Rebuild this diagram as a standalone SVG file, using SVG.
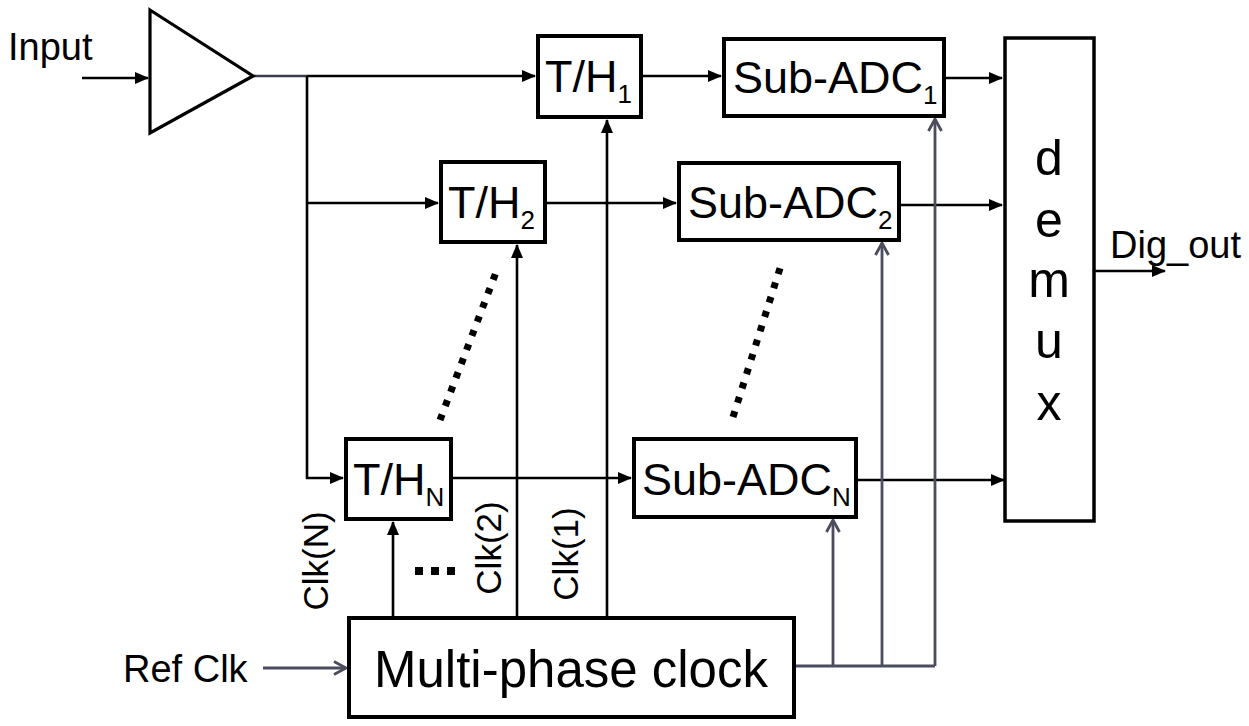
<svg xmlns="http://www.w3.org/2000/svg" width="1249" height="726" viewBox="0 0 1249 726">
<style>
text{font-family:"Liberation Sans",Arial,sans-serif;fill:#000}
.box{fill:#fff;stroke:#000;stroke-width:4}
.lbl{font-size:45px}
.sm{font-size:38px}
.clk{font-size:35px;text-anchor:middle}
.dm{font-size:50px;text-anchor:middle}
.w{fill:none;stroke:#000;stroke-width:2.6}
.g{fill:none;stroke:#4b4d5e;stroke-width:2.8}
.dot{fill:none;stroke:#000;stroke-width:7;stroke-dasharray:6 9}
</style>
<defs>
<marker id="ah" markerWidth="14" markerHeight="12" refX="13" refY="6" orient="auto" markerUnits="userSpaceOnUse"><path d="M0,0 L14,6 L0,12 z" fill="#000"/></marker>
<marker id="oh" markerWidth="16" markerHeight="16" refX="14" refY="8" orient="auto" markerUnits="userSpaceOnUse"><path d="M2,1.5 L14,8 L2,14.5" fill="none" stroke="#4b4d5e" stroke-width="2.8"/></marker>
</defs>
<rect width="1249" height="726" fill="#fff"/>
<g id="connectors">
<path class="w" d="M82,78 H148" marker-end="url(#ah)"/>
<path d="M253,76 H307" fill="none" stroke="#3a3c4c" stroke-width="2.6"/>
<path class="w" d="M307,76 H535" marker-end="url(#ah)"/>
<path class="w" d="M307,76 V478 H343" marker-end="url(#ah)"/>
<path class="w" d="M307,203 H438" marker-end="url(#ah)"/>
<path class="w" d="M642,76 H721" marker-end="url(#ah)"/>
<path class="w" d="M945,78 H1002" marker-end="url(#ah)"/>
<path class="w" d="M546,203 H676" marker-end="url(#ah)"/>
<path class="w" d="M900,205 H1002" marker-end="url(#ah)"/>
<path class="w" d="M452,478 H631" marker-end="url(#ah)"/>
<path class="w" d="M857,480 H1004" marker-end="url(#ah)"/>
<path class="w" d="M1095,271 H1165" marker-end="url(#ah)"/>
<path class="w" d="M393,617 V522" marker-end="url(#ah)"/>
<path class="w" d="M517,617 V245" marker-end="url(#ah)"/>
<path class="w" d="M607,617 V120" marker-end="url(#ah)"/>
<path class="g" d="M795,666 H935"/>
<path class="g" d="M935,666 V119" marker-end="url(#oh)"/>
<path class="g" d="M882,666 V243" marker-end="url(#oh)"/>
<path class="g" d="M833,666 V520" marker-end="url(#oh)"/>
<path class="g" d="M263,668 H346" marker-end="url(#oh)"/>
<path class="dot" d="M440,420 L498,267"/>
<path class="dot" d="M733,417 L782,262"/>
<rect x="415" y="567" width="8" height="8"/>
<rect x="431" y="567" width="8" height="8"/>
<rect x="447" y="567" width="8" height="8"/>
</g>
<g id="amp"><polygon points="150,10 253,76 150,133" fill="#fff" stroke="#000" stroke-width="3.2"/></g>
<g id="th1"><rect class="box" x="538" y="36" width="103" height="81"/><text class="lbl" x="545" y="92">T/H<tspan font-size="26" dy="11">1</tspan></text></g>
<g id="sub1"><rect class="box" x="724" y="39" width="220" height="77"/><text class="lbl" x="733" y="93">Sub-ADC<tspan font-size="26" dy="11">1</tspan></text></g>
<g id="th2"><rect class="box" x="441" y="162" width="104" height="80"/><text class="lbl" x="448" y="218">T/H<tspan font-size="26" dy="11">2</tspan></text></g>
<g id="sub2"><rect class="box" x="679" y="163" width="220" height="77"/><text class="lbl" x="688" y="218">Sub-ADC<tspan font-size="26" dy="11">2</tspan></text></g>
<g id="thN"><rect class="box" x="346" y="439" width="105" height="80"/><text class="lbl" x="353" y="495">T/H<tspan font-size="26" dy="11">N</tspan></text></g>
<g id="subN"><rect class="box" x="634" y="439" width="222" height="78"/><text class="lbl" x="642" y="495">Sub-ADC<tspan font-size="26" dy="11">N</tspan></text></g>
<g id="clock"><rect class="box" x="349" y="618" width="445" height="99"/><text x="571" y="687" font-size="51" text-anchor="middle">Multi-phase clock</text></g>
<g id="demux"><rect x="1005" y="38" width="89" height="483" fill="#fff" stroke="#000" stroke-width="3.5"/>
<text class="dm" x="1049" y="175">d</text><text class="dm" x="1049" y="237">e</text><text class="dm" x="1049" y="297">m</text><text class="dm" x="1049" y="358">u</text><text class="dm" x="1049" y="420">x</text></g>
<g id="labels">
<text class="sm" x="8" y="60">Input</text>
<text class="sm" x="123" y="682">Ref Clk</text>
<text class="sm" x="1110" y="258">Dig_out</text>
<text class="clk" transform="translate(328,561) rotate(-90)">Clk(N)</text>
<text class="clk" transform="translate(501,548) rotate(-90)">Clk(2)</text>
<text class="clk" transform="translate(578,554) rotate(-90)">Clk(1)</text>
</g>
</svg>
